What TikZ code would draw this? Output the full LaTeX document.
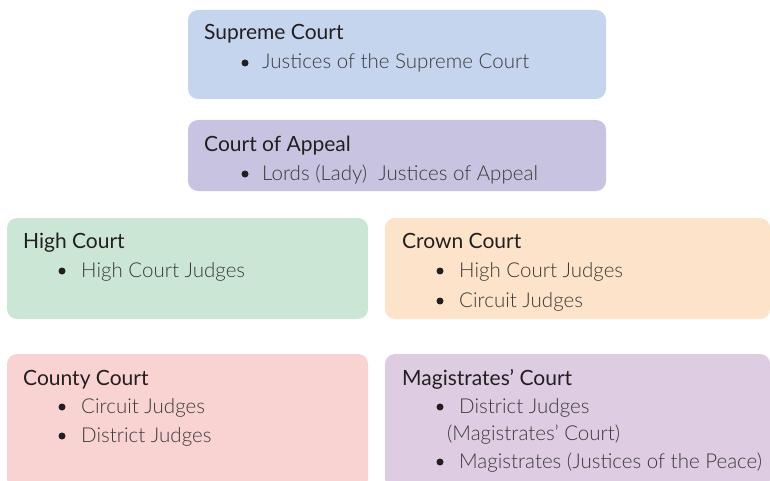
\documentclass[tikz,border=0pt]{standalone}
\usepackage{fontspec}
\setmainfont{Lato}
\newfontfamily\itemfont{Lato Light}
\definecolor{supremefill}{HTML}{C6D5EE}
\definecolor{appealfill}{HTML}{C7C3E1}
\definecolor{highfill}{HTML}{CCE6D5}
\definecolor{crownfill}{HTML}{FDE3C9}
\definecolor{countyfill}{HTML}{F9D3D2}
\definecolor{magfill}{HTML}{DECCE3}
\definecolor{titlecol}{HTML}{231F20}
\definecolor{itemcol}{HTML}{3C3A3B}
\begin{document}
\begin{tikzpicture}[x=1pt,y=-1pt,
  court/.style={fill=#1, draw=none, rounded corners=10pt, anchor=north west,
    inner sep=0pt, outer sep=0pt},
  courttitle/.style={anchor=base west, inner sep=0pt, text=titlecol,
    font=\fontsize{21}{25}\selectfont},
  courtitem/.style={anchor=base west, inner sep=0pt, text=itemcol,
    font=\itemfont\fontsize{20.5}{24}\selectfont},
  dot/.style={circle, fill=titlecol, inner sep=0pt, minimum size=7pt}]
\useasboundingbox (0,0) rectangle (770,481);
\clip (0,0) rectangle (770,481);

% court boxes
\node[court=supremefill, minimum width=418pt, minimum height=89pt] (supreme) at (188,10) {};
\node[court=appealfill, minimum width=418pt, minimum height=71pt] (appeal) at (188,120) {};
\node[court=highfill, minimum width=361pt, minimum height=101pt] (high) at (7,218) {};
\node[court=crownfill, minimum width=385pt, minimum height=101pt] (crown) at (385,218) {};
\node[court=countyfill, minimum width=361pt, minimum height=135pt] (county) at (7,354) {};
\node[court=magfill, minimum width=385pt, minimum height=135pt] (mag) at (385,354) {};

% Supreme Court
\node[courttitle] (supremeT) at (204,40) {Supreme Court};
\node[dot] (supremeB1) at (245,63) {};
\node[courtitem] (supremeI1) at (262,69) {Justices of the Supreme Court};

% Court of Appeal
\node[courttitle] (appealT) at (204,152) {Court of Appeal};
\node[dot] (appealB1) at (245,174) {};
\node[courtitem] (appealI1) at (262,180) {Lords (Lady)\ \ Justices of Appeal};

% High Court
\node[courttitle] (highT) at (23,248) {High Court};
\node[dot] (highB1) at (62,271) {};
\node[courtitem] (highI1) at (81,277) {High Court Judges};

% Crown Court
\node[courttitle] (crownT) at (402,248) {Crown Court};
\node[dot] (crownB1) at (440,271) {};
\node[courtitem] (crownI1) at (459,277) {High Court Judges};
\node[dot] (crownB2) at (440,301) {};
\node[courtitem] (crownI2) at (459,307) {Circuit Judges};

% County Court
\node[courttitle] (countyT) at (23,385) {County Court};
\node[dot] (countyB1) at (62,407) {};
\node[courtitem] (countyI1) at (81,413) {Circuit Judges};
\node[dot] (countyB2) at (62,436) {};
\node[courtitem] (countyI2) at (81,442) {District Judges};

% Magistrates' Court
\node[courttitle] (magT) at (402,385) {Magistrates’ Court};
\node[dot] (magB1) at (440,407) {};
\node[courtitem] (magI1) at (459,413) {District Judges};
\node[courtitem] (magI1b) at (447,440) {(Magistrates’ Court)};
\node[dot] (magB2) at (440,462) {};
\node[courtitem] (magI2) at (459,468) {Magistrates (Justices of the Peace)};
\end{tikzpicture}
\end{document}
